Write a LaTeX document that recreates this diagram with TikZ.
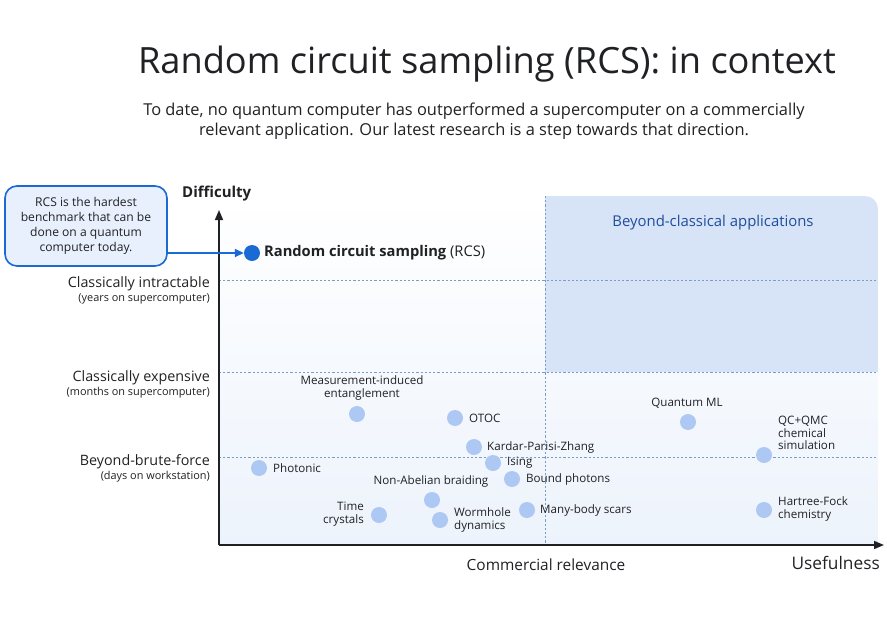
\documentclass[tikz,border=0pt]{standalone}
\usepackage{fontspec}
\setmainfont{Open Sans}
\usepackage{xcolor}
\usetikzlibrary{arrows.meta}

\definecolor{ink}{HTML}{202124}
\definecolor{rcsblue}{HTML}{1A6AD6}
\definecolor{ptblue}{HTML}{AEC8F4}
\definecolor{calloutfill}{HTML}{E8F0FD}
\definecolor{bgblue}{HTML}{EDF3FC}
\definecolor{zoneblue}{HTML}{D7E4F8}
\definecolor{dashblue}{HTML}{7B9CC8}
\definecolor{zonetext}{HTML}{1F4E9A}

\tikzset{
  dot/.style={circle, fill=ptblue, inner sep=0pt, minimum size=16pt},
  ptlabel/.style={font=\fontsize{11.6}{12.8}\selectfont, text=ink, inner sep=0pt},
  levlabel/.style={font=\fontsize{14.3}{16}\selectfont, text=ink, inner sep=0pt, anchor=east},
  levnote/.style={font=\fontsize{10.9}{12}\selectfont, text=ink, inner sep=0pt, anchor=east},
  grid line/.style={dashblue, line width=0.8pt, dash pattern=on 2.2pt off 2pt},
  axis/.style={ink, line width=1.6pt, -{Triangle[length=10pt,width=8pt]}}
}

\begin{document}
\begin{tikzpicture}[x=1pt,y=-1pt]
\useasboundingbox (0,0) rectangle (887,635);

%title
\node[font=\fontsize{36.2}{42}\selectfont, text=ink] (title) at (487,64) {Random circuit sampling (RCS): in context};
\node[font=\fontsize{16.4}{20}\selectfont, text=ink, align=center] (subtitle) at (474,121)
  {To date, no quantum computer has outperformed a supercomputer on a commercially\\
   relevant application. Our latest research is a step towards that direction.};

%background
\begin{scope}
\clip[rounded corners=13pt] (200,196) rectangle (878,600);
\shade[top color=white, bottom color=bgblue] (219,196) rectangle (878,545);
\fill[zoneblue] (545,196) rectangle (878,372);
\end{scope}

%grid lines
\draw[grid line] (219,280) -- (878,280);
\draw[grid line] (219,372) -- (878,372);
\draw[grid line] (219,457) -- (878,457);
\draw[grid line] (545,196) -- (545,545);

%axes
\coordinate (origin) at (219,545);
\coordinate (ytip) at (219,210);
\coordinate (xtip) at (884,545);
\draw[axis] (origin) -- (ytip);
\draw[axis] (origin) -- (xtip);

\node[font=\fontsize{15}{18}\selectfont\bfseries, text=ink, anchor=west, inner sep=0pt] (difficulty) at (182,194) {Difficulty};
\node[font=\fontsize{15.4}{18}\selectfont, text=ink, inner sep=0pt] (commercial) at (546,565) {Commercial relevance};
\node[font=\fontsize{17.3}{20}\selectfont, text=ink, anchor=east, inner sep=0pt] (usefulness) at (880,563) {Usefulness};

%levels
\node[levlabel] (intractable) at (210,284) {Classically intractable};
\node[levnote] (intractablenote) at (210,299) {(years on supercomputer)};
\node[levlabel] (expensive) at (210,378) {Classically expensive};
\node[levnote] (expensivenote) at (210,393) {(months on supercomputer)};
\node[levlabel] (brute) at (210,462) {Beyond-brute-force};
\node[levnote] (brutenote) at (210,477) {(days on workstation)};

\node[font=\fontsize{14.9}{17}\selectfont, text=zonetext, inner sep=0pt] (zone) at (713,223) {Beyond-classical applications};

%callout
\node[draw=rcsblue, line width=1.6pt, fill=calloutfill, rounded corners=12pt,
      minimum width=162pt, minimum height=80pt, align=center, inner sep=0pt,
      font=\fontsize{12.1}{15}\selectfont, text=ink] (callout) at (86,226)
  {RCS is the hardest\\ benchmark that can be\\ done on a quantum\\ computer today.};
\node[dot, fill=rcsblue] (rcs) at (252,253) {};
\node[font=\fontsize{14.7}{17}\selectfont, text=ink, anchor=west, inner sep=0pt] (rcslabel) at (264,253)
  {\textbf{Random circuit sampling} (RCS)};
\draw[rcsblue, line width=1.6pt, -{Triangle[length=9pt,width=8pt]}] (callout.east |- rcs) -- (rcs.west);

%points
\node[dot] (mie) at (357,414) {};
\node[ptlabel, align=center] (mielabel) at (362,388) {Measurement-induced\\ entanglement};
\node[dot] (otoc) at (455,418) {};
\node[ptlabel, anchor=west] (otoclabel) at (469,418) {OTOC};
\node[dot] (kpz) at (474,447) {};
\node[ptlabel, anchor=west] (kpzlabel) at (487,447) {Kardar-Parisi-Zhang};
\node[dot] (ising) at (493,463) {};
\node[ptlabel, anchor=west] (isinglabel) at (507,463) {Ising};
\node[dot] (bound) at (512,479) {};
\node[ptlabel, anchor=west] (boundlabel) at (526,479) {Bound photons};
\node[dot] (photonic) at (259,468) {};
\node[ptlabel, anchor=west] (photoniclabel) at (273,468) {Photonic};
\node[dot] (braiding) at (432,500) {};
\node[ptlabel] (braidinglabel) at (431,481) {Non-Abelian braiding};
\node[dot] (crystals) at (379,515) {};
\node[ptlabel, anchor=east, align=right] (crystalslabel) at (364,514) {Time\\ crystals};
\node[dot] (wormhole) at (440,520) {};
\node[ptlabel, anchor=west, align=left] (wormholelabel) at (454,520) {Wormhole\\ dynamics};
\node[dot] (scars) at (527,510) {};
\node[ptlabel, anchor=west] (scarslabel) at (540,510) {Many-body scars};
\node[dot] (qml) at (688,422) {};
\node[ptlabel] (qmllabel) at (687,403) {Quantum ML};
\node[dot] (qmc) at (764,455) {};
\node[ptlabel, anchor=west, align=left] (qmclabel) at (778,433) {QC+QMC\\ chemical\\ simulation};
\node[dot] (hf) at (764,510) {};
\node[ptlabel, anchor=west, align=left] (hflabel) at (778,509) {Hartree-Fock\\ chemistry};

\end{tikzpicture}
\end{document}
